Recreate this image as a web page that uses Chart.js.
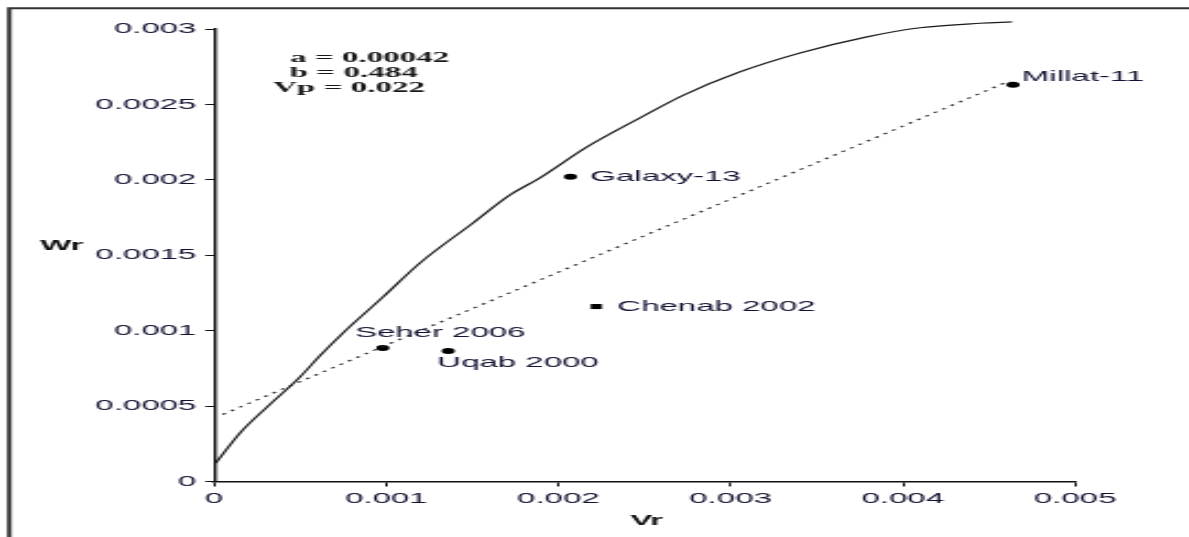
<!DOCTYPE html>
<html>
<head>
<meta charset="utf-8">
<script src="https://cdn.jsdelivr.net/npm/chart.js@4.4.1/dist/chart.umd.min.js"></script>
<style>
  html, body { margin: 0; padding: 0; background: #fff; overflow: hidden; }
  /* the plot is laid out on a narrow canvas and widened horizontally */
  #wrap { position: absolute; left: 0; top: 0; width: 540px; height: 537px;
          transform: scaleX(2.2019); transform-origin: 0 0; }
</style>
</head>
<body>
<div id="wrap"><canvas id="c"></canvas></div>
<script>
// Vr-Wr limiting curve
const curveVr = [0.00001, 0.000151, 0.000308, 0.000499, 0.000616, 0.000749, 0.000981, 0.001196,
                 0.001504, 0.001719, 0.001893, 0.002166, 0.002474, 0.002724, 0.003055, 0.003403,
                 0.003792, 0.0041, 0.004448, 0.004634];
const curveWr = [0.000123, 0.000322, 0.000494, 0.000693, 0.000835, 0.000985, 0.001223, 0.001449,
                 0.001714, 0.0019, 0.002013, 0.002218, 0.002411, 0.00256, 0.002716, 0.002841,
                 0.002948, 0.003008, 0.003038, 0.003047];

// parental array
const cultivars   = ['Seher 2006', 'Uqab 2000', 'Chenab 2002', 'Galaxy-13', 'Millat-11'];
const cultivarVr  = [0.00098, 0.00136, 0.00222, 0.00207, 0.00464];
const cultivarWr  = [0.000885, 0.000865, 0.00116, 0.00202, 0.00263];

// regression Wr = a + b·Vr
const regA = 0.00042;
const regB = 0.484;
const regVrEnds = [0.00005, 0.00462];
const paramLabels = ['a = 0.00042', 'b = 0.484', 'Vp = 0.022'];

// axes
const xTickValues = [0, 0.001, 0.002, 0.003, 0.004, 0.005];
const xTickLabels = ['0', '0.001', '0.002', '0.003', '0.004', '0.005'];
const yTickValues = [0, 0.0005, 0.001, 0.0015, 0.002, 0.0025, 0.003];
const yTickLabels = ['0', '0.0005', '0.001', '0.0015', '0.002', '0.0025', '0.003'];
const xTitle = 'Vr';
const yTitle = 'Wr';

// marker and label styling
const markerStyles = ['circle', 'circle', 'rect', 'circle', 'circle'];
const markerRadii  = [3, 3, 3.6, 3, 3];
const labelOffsets = [[-12.7, -15], [-5, 12], [9.5, 0], [9, 0], [4, -8]];
const paramPos = [[131.7, 58], [131.5, 73], [124, 88]];

const SANS = '"Liberation Sans", Arial, sans-serif';
const SERIF = '"Liberation Serif", "Times New Roman", serif';
const TEXT = '#121232';

const textLayer = {
  id: 'textLayer',
  afterDraw(chart) {
    const ctx = chart.ctx;
    const pts = chart.getDatasetMeta(2).data;
    ctx.save();
    // outer frame
    ctx.strokeStyle = '#333';
    ctx.lineWidth = 2;
    ctx.beginPath();
    ctx.moveTo(540, 8.3);
    ctx.lineTo(4.2, 8.3);
    ctx.lineTo(4.2, 537);
    ctx.stroke();

    // cultivar labels
    ctx.fillStyle = TEXT;
    ctx.font = '15px ' + SANS;
    ctx.textAlign = 'left';
    ctx.textBaseline = 'middle';
    pts.forEach((p, i) => {
      ctx.fillText(cultivars[i], p.x + labelOffsets[i][0], p.y + labelOffsets[i][1]);
    });

    // regression parameters
    ctx.fillStyle = '#1a1616';
    ctx.font = 'bold 15px ' + SERIF;
    paramLabels.forEach((t, i) => ctx.fillText(t, paramPos[i][0], paramPos[i][1]));

    // axis titles
    ctx.fillStyle = '#111';
    ctx.font = 'bold 15px ' + SANS;
    ctx.fillText(yTitle, 18.2, 246);
    ctx.textAlign = 'center';
    const xs = chart.scales.x;
    ctx.fillText(xTitle, (xs.left + xs.right) / 2 + 1, 521);
    ctx.restore();
  }
};

const tickFont = { family: SANS, size: 15 };

new Chart(document.getElementById('c'), {
  type: 'scatter',
  data: {
    datasets: [
      {
        data: curveVr.map((x, i) => ({ x, y: curveWr[i] })),
        showLine: true, borderColor: '#1a1a1a', borderWidth: 1.2,
        pointRadius: 0, cubicInterpolationMode: 'monotone', clip: false
      },
      {
        data: regVrEnds.map(x => ({ x, y: regA + regB * x })),
        showLine: true, borderColor: '#2a2a2a', borderWidth: 1.2,
        borderDash: [1.8, 3.4], pointRadius: 0
      },
      {
        data: cultivarVr.map((x, i) => ({ x, y: cultivarWr[i] })),
        showLine: false, pointStyle: markerStyles, pointRadius: markerRadii,
        backgroundColor: '#000', borderColor: '#000', borderWidth: 0, clip: false
      }
    ]
  },
  options: {
    responsive: true,
    maintainAspectRatio: false,
    animation: false,
    events: [],
    plugins: { legend: { display: false }, tooltip: { enabled: false } },
    layout: { padding: { left: 0, right: 51.8, top: 29, bottom: 0 } },
    scales: {
      x: {
        type: 'linear', min: 0, max: 0.005,
        afterBuildTicks: s => { s.ticks = xTickValues.map(v => ({ value: v })); },
        afterFit: s => { s.height = 55.5; },
        ticks: { callback: (v, i) => xTickLabels[i], font: tickFont, color: TEXT,
                 padding: 3, maxRotation: 0, autoSkip: false },
        grid: { drawOnChartArea: false, drawTicks: true, tickLength: 5, color: '#111', lineWidth: 1 },
        border: { display: true, color: '#111', width: 1.6 }
      },
      y: {
        type: 'linear', min: 0, max: 0.003,
        afterBuildTicks: s => { s.ticks = yTickValues.map(v => ({ value: v })); },
        afterFit: s => { s.width = 97.2; },
        ticks: { callback: (v, i) => yTickLabels[i], font: tickFont, color: TEXT,
                 padding: 4, autoSkip: false },
        grid: { drawOnChartArea: false, drawTicks: true, tickLength: 4, color: '#111', lineWidth: 1 },
        border: { display: true, color: '#111', width: 1.4 }
      }
    }
  },
  plugins: [textLayer]
});
</script>
</body>
</html>
